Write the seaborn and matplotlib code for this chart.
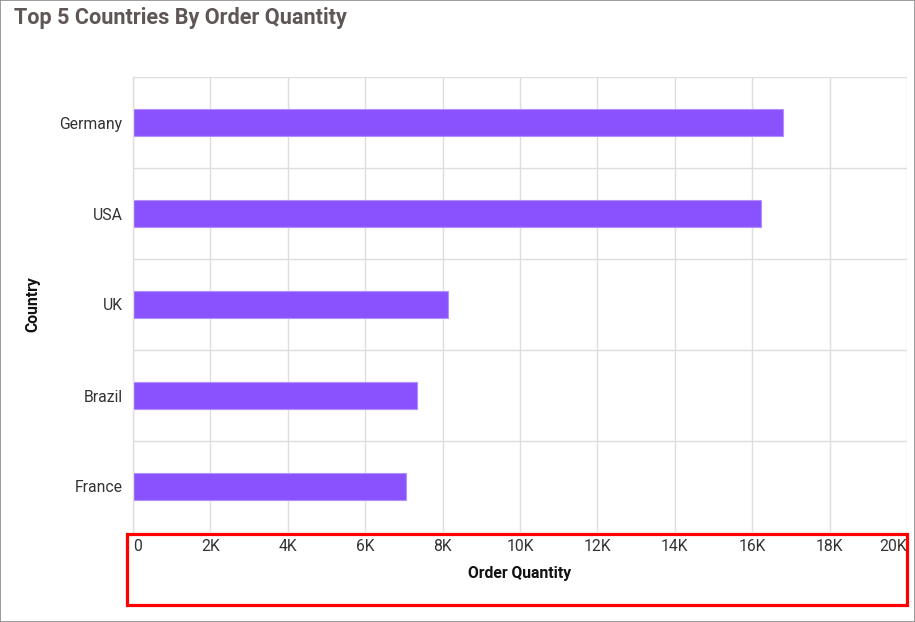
import matplotlib
matplotlib.use("Agg")
import matplotlib.pyplot as plt
import seaborn as sns
import pandas as pd
from matplotlib.patches import Rectangle
from matplotlib.ticker import FuncFormatter, FixedLocator

countries = ["Germany", "USA", "UK", "Brazil", "France"]
order_qty = [16800, 16220, 8130, 7350, 7050]
x_ticks = [0, 2000, 4000, 6000, 8000, 10000, 12000, 14000, 16000, 18000, 20000]

df = pd.DataFrame({"Country": countries, "Order Quantity": order_qty})

sns.set_theme(style="white")
plt.rcParams["font.family"] = ["Roboto", "DejaVu Sans"]

fig = plt.figure(figsize=(9.15, 6.22), dpi=100)
ax = fig.add_axes([133 / 915, 1 - 532 / 622, (907 - 133) / 915, (532 - 77) / 622])

sns.barplot(data=df, y="Country", x="Order Quantity", orient="h", ax=ax,
            color="#8A52FD", width=0.3, saturation=1,
            edgecolor="#B38EFF", linewidth=0.8)

ax.set_xlim(0, 20000)
ax.set_ylim(len(countries) - 0.5, -0.5)
ax.xaxis.set_major_locator(FixedLocator(x_ticks))
ax.xaxis.set_major_formatter(FuncFormatter(lambda v, p: "0" if v == 0 else f"{int(v/1000)}K"))
ax.grid(axis="x", color="#dedede", linewidth=1)
ax.yaxis.set_minor_locator(FixedLocator([i - 0.5 for i in range(len(countries) + 1)]))
ax.grid(axis="y", which="minor", color="#dedede", linewidth=1)
ax.set_axisbelow(True)

for s in ["top", "right", "bottom"]:
    ax.spines[s].set_visible(False)
ax.spines["left"].set_color("#dedede")
ax.spines["left"].set_linewidth(1)

ax.tick_params(axis="x", which="major", length=0, pad=5, labelsize=11.3, labelcolor="#333333")
ax.tick_params(axis="y", which="major", length=0, pad=7.5, labelsize=11.3, labelcolor="#333333")
ax.tick_params(axis="y", which="minor", length=5, width=1, color="#dedede")

xl = ax.get_xticklabels()
xl[0].set_ha("left")
xl[-1].set_ha("right")

ax.set_xlabel("Order Quantity", fontsize=11.3, fontweight="bold", color="#111111", labelpad=9)
ax.set_ylabel("Country", fontsize=11.3, fontweight="bold", color="#111111", labelpad=14)

fig.text(14 / 915, 1 - 18 / 622, "Top 5 Countries By Order Quantity", fontsize=15.6,
         fontweight="bold", color="#5f5656", ha="left", va="center")

# outer frame
fig.add_artist(Rectangle((0.0005, 0.0008), 0.999, 0.9985, transform=fig.transFigure,
                         fill=False, edgecolor="#8a8a8a", linewidth=1.2))
# red highlight box
fig.add_artist(Rectangle((127 / 915, 1 - 605 / 622), (907 - 127) / 915, (605 - 534) / 622,
                         transform=fig.transFigure, fill=False, edgecolor="#ff0000", linewidth=2.3))

fig.savefig("out.png", dpi=100)
